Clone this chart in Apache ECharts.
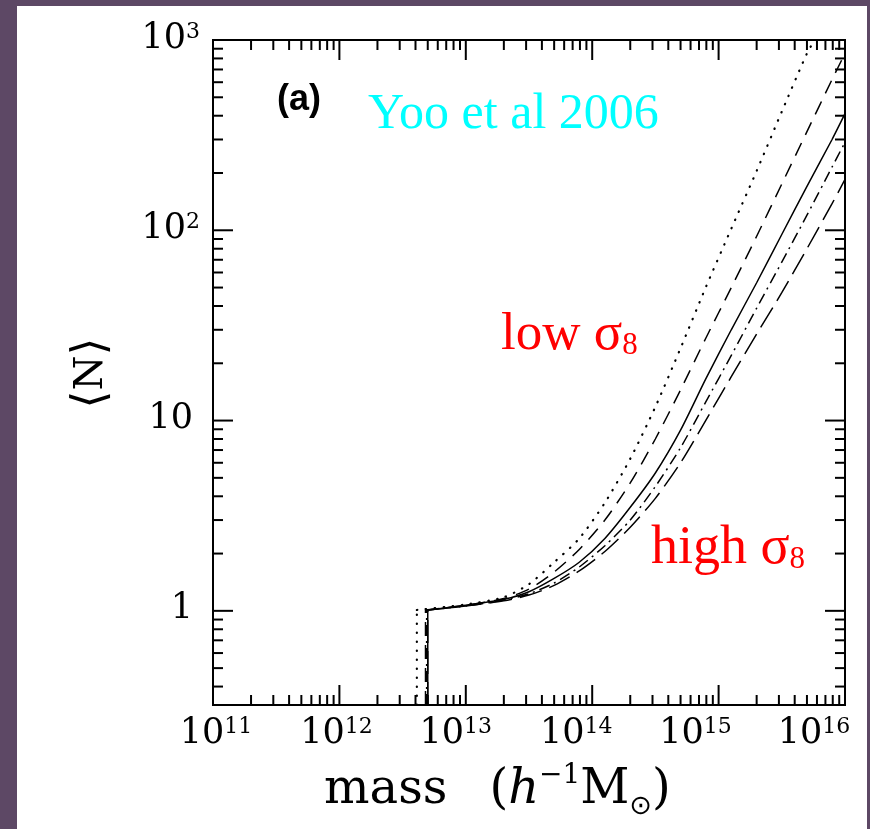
<!DOCTYPE html>
<html>
<head>
<meta charset="utf-8">
<script src="https://cdn.jsdelivr.net/npm/echarts@6/dist/echarts.min.js"></script>
<style>
  html, body { margin: 0; padding: 0; background: #5d4865; }
  #chart { width: 870px; height: 829px; }
</style>
</head>
<body>
<div id="chart"></div>
<script>
// Halo mass grid shared by the rising branches (h^-1 Msun)
const massGrid = [1.0e13, 2.0e13, 3.16e13, 5.0e13, 7.9e13, 1.26e14, 2.0e14, 3.16e14,
                  5.0e14, 7.9e14, 1.26e15, 2.0e15, 3.16e15, 5.0e15, 7.9e15, 1.0e16];

// Minimum halo mass of each model (vertical edge of the occupation curve)
const stepMassDotted   = 4.1e12;
const stepMassDashed   = 4.8e12;
const stepMassSolid    = 5.0e12;
const stepMassDashDot  = 4.9e12;
const stepMassLongDash = 5.0e12;

// Mean occupation <N> along massGrid, from low sigma8 (dotted) to high sigma8 (long dash)
const nDotted   = [1.08, 1.18, 1.38, 1.8, 2.4, 3.7, 6.3, 11.8, 24, 50, 102, 205, 420, 850];
const dottedTop = [5.75e15, 1000];
const nDashed   = [1.07, 1.16, 1.30, 1.6, 2.1, 3.0, 4.7, 8.0, 14.5, 27, 50, 93, 175, 330, 620, 850];
const nSolid    = [1.07, 1.15, 1.26, 1.48, 1.8, 2.4, 3.5, 5.3, 8.9, 16.5, 30, 53, 95, 170, 300, 410];
const nDashDot  = [1.06, 1.14, 1.23, 1.4, 1.7, 2.2, 3.0, 4.5, 7.2, 12.5, 22, 39, 68, 120, 215, 290];
const nLongDash = [1.06, 1.13, 1.21, 1.36, 1.62, 2.05, 2.75, 3.9, 6.0, 10, 17, 28.5, 47, 80, 138, 185];

// Occupation at the minimum mass
const nAtStep = 1.01;

// Axis ranges and labels
const xRange = [1e11, 1e16];
const yRange = [0.32, 1000];
const xTickValues = [1e11, 1e12, 1e13, 1e14, 1e15, 1e16];
const xTickText   = [['10', '11'], ['10', '12'], ['10', '13'], ['10', '14'], ['10', '15'], ['10', '16']];
const yTickValues = [1, 10, 100, 1000];
const yTickText   = [['1', ''], ['10', ''], ['10', '2'], ['10', '3']];

// ---------------------------------------------------------------------------

const SERIF = '"DejaVu Serif", serif';
const TIMES = '"Liberation Serif", "Times New Roman", serif';

// vertical edge at the minimum mass, drawn from the bottom of the frame
function edge(step) {
  return [[step, yRange[0]], [step, nAtStep]];
}

// rising branch starting at the top of the edge
function branch(step, values, extra) {
  const pts = [[step, nAtStep]];
  values.forEach((n, i) => pts.push([massGrid[i], n]));
  if (extra) pts.push(extra);
  return pts;
}

function findIndex(list, v) {
  for (let i = 0; i < list.length; i++) {
    if (Math.abs(Math.log10(v) - Math.log10(list[i])) < 1e-6) return i;
  }
  return -1;
}

// per-label horizontal nudges of the mass tick labels
const xLabelShift = [3, -3, -10, -16, -23, -31];
const xRich = {
  b: { fontFamily: SERIF, fontSize: 35, lineHeight: 38, color: '#000', verticalAlign: 'top' },
  s: { fontFamily: SERIF, fontSize: 22, lineHeight: 25, color: '#000', verticalAlign: 'top' }
};
xLabelShift.forEach((d, i) => {
  xRich['L' + i] = { width: Math.max(0, 2 * d), fontSize: 10 };
  xRich['R' + i] = { width: Math.max(0, -2 * d), fontSize: 10 };
});

// tick marks on all four sides of the frame
const tickData = [];
for (let e = 11; e <= 15; e++) {
  for (let k = 1; k <= 9; k++) {
    const v = k * Math.pow(10, e);
    if (k === 1 && e === 11) continue;
    const major = k === 1 ? 1 : 0;
    tickData.push([v, yRange[0], 0, major], [v, yRange[1], 1, major]);
  }
}
for (let e = -1; e <= 2; e++) {
  for (let k = 1; k <= 9; k++) {
    const v = k * Math.pow(10, e);
    if (v <= yRange[0] || v >= yRange[1]) continue;
    const major = k === 1 ? 1 : 0;
    tickData.push([xRange[0], v, 2, major], [xRange[1], v, 3, major]);
  }
}

function lineSeries(name, data, dash, width, cap, smooth) {
  return {
    name: name,
    type: 'line',
    data: data,
    showSymbol: false,
    symbol: 'none',
    clip: true,
    smooth: smooth || false,
    z: 3,
    lineStyle: { color: '#000', width: width, type: dash, cap: cap || 'butt' },
    animation: false
  };
}

const styles = [
  { name: 'dotted',    step: stepMassDotted,   n: nDotted,   extra: dottedTop, dash: [0.5, 8.5],     w: 2.2, cap: 'round' },
  { name: 'dashed',    step: stepMassDashed,   n: nDashed,   dash: [14, 9],        w: 1.5 },
  { name: 'solid',     step: stepMassSolid,    n: nSolid,    dash: 'solid',        w: 1.5 },
  { name: 'dash-dot',  step: stepMassDashDot,  n: nDashDot,  dash: [11, 5, 2, 5],  w: 1.5 },
  { name: 'long dash', step: stepMassLongDash, n: nLongDash, dash: [23, 8],        w: 1.5 }
];

const curveSeries = [];
styles.forEach(s => {
  curveSeries.push(lineSeries(s.name + ' edge', edge(s.step), s.dash, s.w, s.cap, false));
  curveSeries.push(lineSeries(s.name, branch(s.step, s.n, s.extra), s.dash, s.w, s.cap, 0.25));
});

const chart = echarts.init(document.getElementById('chart'), null, { renderer: 'canvas' });

const option = {
  animation: false,
  backgroundColor: '#5d4865',
  grid: {
    left: 213, top: 40, right: 25, bottom: 124,
    show: true, borderColor: '#000', borderWidth: 2,
    containLabel: false, outerBoundsMode: 'none'
  },
  xAxis: {
    type: 'log',
    logBase: 10,
    min: xRange[0],
    max: xRange[1],
    axisLine: { show: false },
    axisTick: { show: false },
    splitLine: { show: false },
    axisLabel: {
      margin: 11,
      showMinLabel: true,
      showMaxLabel: true,
      formatter: function (v) {
        const i = findIndex(xTickValues, v);
        if (i < 0) return '';
        const t = xTickText[i];
        return '{L' + i + '|\u00a0}{b|' + t[0] + '}{s|' + t[1] + '}{R' + i + '|\u00a0}';
      },
      rich: xRich
    }
  },
  yAxis: {
    type: 'log',
    logBase: 10,
    min: yRange[0],
    max: yRange[1],
    axisLine: { show: false },
    axisTick: { show: false },
    splitLine: { show: false },
    axisLabel: {
      margin: 13,
      showMaxLabel: true,
      formatter: function (v) {
        const i = findIndex(yTickValues, v);
        if (i < 0) return '';
        const t = yTickText[i];
        if (t[1]) return '{b|' + t[0] + '}{s|' + t[1] + '}';
        return '{b|' + t[0] + '}{g|\u00a0}';
      },
      rich: {
        b: { fontFamily: SERIF, fontSize: 35, lineHeight: 38, color: '#000', verticalAlign: 'top' },
        s: { fontFamily: SERIF, fontSize: 22, lineHeight: 25, color: '#000', verticalAlign: 'top' },
        g: { width: 7, fontSize: 10 }
      }
    }
  },
  series: curveSeries.concat([
    {
      name: 'ticks',
      type: 'custom',
      silent: true,
      z: 4,
      encode: { x: 0, y: 1 },
      data: tickData,
      renderItem: function (params, api) {
        const p = api.coord([api.value(0), api.value(1)]);
        const side = api.value(2);
        const len = api.value(3) ? 20 : 10;
        const d = [[0, -len], [0, len], [len, 0], [-len, 0]][side];
        return {
          type: 'line',
          shape: { x1: p[0], y1: p[1], x2: p[0] + d[0], y2: p[1] + d[1] },
          style: { stroke: '#000', lineWidth: 2 }
        };
      },
      animation: false
    }
  ]),
  graphic: [
    {
      type: 'rect',
      z: -10,
      left: 17, top: 6,
      shape: { width: 850, height: 830 },
      style: { fill: '#ffffff' },
      silent: true
    },
    {
      type: 'text',
      z: 10,
      x: 277, y: 100,
      style: {
        text: '(a)',
        font: 'bold 36px "Liberation Sans", Arial, sans-serif',
        fill: '#000',
        verticalAlign: 'middle'
      }
    },
    {
      type: 'text',
      z: 10,
      x: 368, y: 115,
      style: {
        text: 'Yoo et al 2006',
        font: '50px ' + TIMES,
        fill: '#00ffff',
        verticalAlign: 'middle'
      }
    },
    {
      type: 'text',
      z: 10,
      x: 501, y: 335,
      style: {
        text: '{t|low \u03c3}{u|8}',
        verticalAlign: 'middle',
        rich: {
          t: { fontFamily: TIMES, fontSize: 53, lineHeight: 52, fill: '#ff0000', color: '#ff0000', verticalAlign: 'middle' },
          u: { fontFamily: TIMES, fontSize: 31, lineHeight: 13, fill: '#ff0000', color: '#ff0000', verticalAlign: 'bottom' }
        }
      }
    },
    {
      type: 'text',
      z: 10,
      x: 651, y: 549,
      style: {
        text: '{t|high \u03c3}{u|8}',
        verticalAlign: 'middle',
        rich: {
          t: { fontFamily: TIMES, fontSize: 54, lineHeight: 52, fill: '#ff0000', color: '#ff0000', verticalAlign: 'middle' },
          u: { fontFamily: TIMES, fontSize: 31, lineHeight: 13, fill: '#ff0000', color: '#ff0000', verticalAlign: 'bottom' }
        }
      }
    },
    {
      type: 'text',
      z: 10,
      x: 324, y: 791,
      style: {
        text: '{m|mass}{sp|\u00a0}{m|(}{i|h}{sup|\u22121}{m|M}{sub|\u2299}{m|)}',
        verticalAlign: 'middle',
        rich: {
          m:   { fontFamily: SERIF, fontSize: 48, lineHeight: 58, fill: '#000', color: '#000', verticalAlign: 'middle' },
          sp:  { width: 42, fontSize: 10 },
          i:   { fontFamily: SERIF, fontStyle: 'italic', fontSize: 48, lineHeight: 58, fill: '#000', color: '#000', verticalAlign: 'middle' },
          sup: { fontFamily: SERIF, fontSize: 28, lineHeight: 32, fill: '#000', color: '#000', verticalAlign: 'top' },
          sub: { fontFamily: '"DejaVu Sans", sans-serif', fontSize: 27, lineHeight: 24, fill: '#000', color: '#000', verticalAlign: 'bottom' }
        }
      }
    },
    {
      type: 'text',
      z: 10,
      x: 92, y: 373,
      rotation: Math.PI / 2,
      style: {
        text: '{k|\u27e8}{n|N}{k|\u27e9}',
        align: 'center',
        verticalAlign: 'middle',
        rich: {
          k: { fontFamily: '"DejaVu Sans", sans-serif', fontSize: 46, lineHeight: 50, fill: '#000', color: '#000', verticalAlign: 'middle' },
          n: { fontFamily: SERIF, fontSize: 40, lineHeight: 50, fill: '#000', color: '#000', verticalAlign: 'middle' }
        }
      }
    }
  ]
};

chart.setOption(option);
</script>
</body>
</html>
